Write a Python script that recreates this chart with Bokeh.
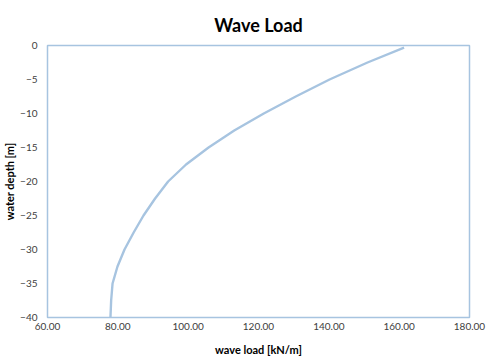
from bokeh.plotting import figure
from bokeh.models import Range1d, FixedTicker, NumeralTickFormatter
from bokeh.embed import file_html
from bokeh.resources import INLINE

# data
water_depth = [-0.3, -2.5, -5.0, -7.5, -10.0, -12.5, -15.0, -17.5, -20.0, -22.5,
               -25.0, -27.5, -30.0, -32.5, -35.0, -37.5, -40.0]
wave_load = [161.4, 151.0, 140.2, 130.6, 121.5, 113.1, 105.8, 99.4, 94.3, 90.6,
             87.3, 84.5, 81.9, 79.9, 78.5, 78.1, 77.9]
x_ticks = [60, 80, 100, 120, 140, 160, 180]
y_ticks = [0, -5, -10, -15, -20, -25, -30, -35, -40]

FONT = "Lato"
TXT = "#404040"
BLUE = "#a7c4e0"

p = figure(width=490, height=363, output_backend="svg", toolbar_location=None,
           x_range=Range1d(60, 180), y_range=Range1d(-40, 0),
           title="Wave Load", min_border_left=46, min_border_right=21,
           min_border_top=45, min_border_bottom=46)

p.title.align = "center"
p.title.text_font = FONT
p.title.text_font_size = "18px"
p.title.text_font_style = "bold"
p.title.text_color = "#000000"
p.title.standoff = 20

p.line(wave_load, water_depth, line_color=BLUE, line_width=2.4, line_join="round")

p.xgrid.visible = False
p.ygrid.visible = False
p.outline_line_color = BLUE
p.outline_line_width = 1.5
p.outline_line_alpha = 1.0

for ax in (p.xaxis[0], p.yaxis[0]):
    ax.axis_line_color = None
    ax.major_tick_line_color = None
    ax.minor_tick_line_color = None
    ax.major_tick_out = 0
    ax.major_tick_in = 0
    ax.minor_tick_out = 0
    ax.minor_tick_in = 0
    ax.major_label_text_font = FONT
    ax.major_label_text_font_size = "10px"
    ax.major_label_text_color = TXT
    ax.axis_label_text_font = FONT
    ax.axis_label_text_font_size = "11px"
    ax.axis_label_text_font_style = "bold"
    ax.axis_label_text_color = "#000000"

p.xaxis.ticker = FixedTicker(ticks=x_ticks)
p.yaxis.ticker = FixedTicker(ticks=y_ticks)
p.xaxis.formatter = NumeralTickFormatter(format="0.00")
p.xaxis.axis_label = "wave load [kN/m]"
p.yaxis.axis_label = "water depth [m]"
p.xaxis.major_label_standoff = 5
p.yaxis.major_label_standoff = 10
p.xaxis.axis_label_standoff = 10
p.yaxis.axis_label_standoff = 1

open("out.html", "w").write(file_html(p, INLINE))
